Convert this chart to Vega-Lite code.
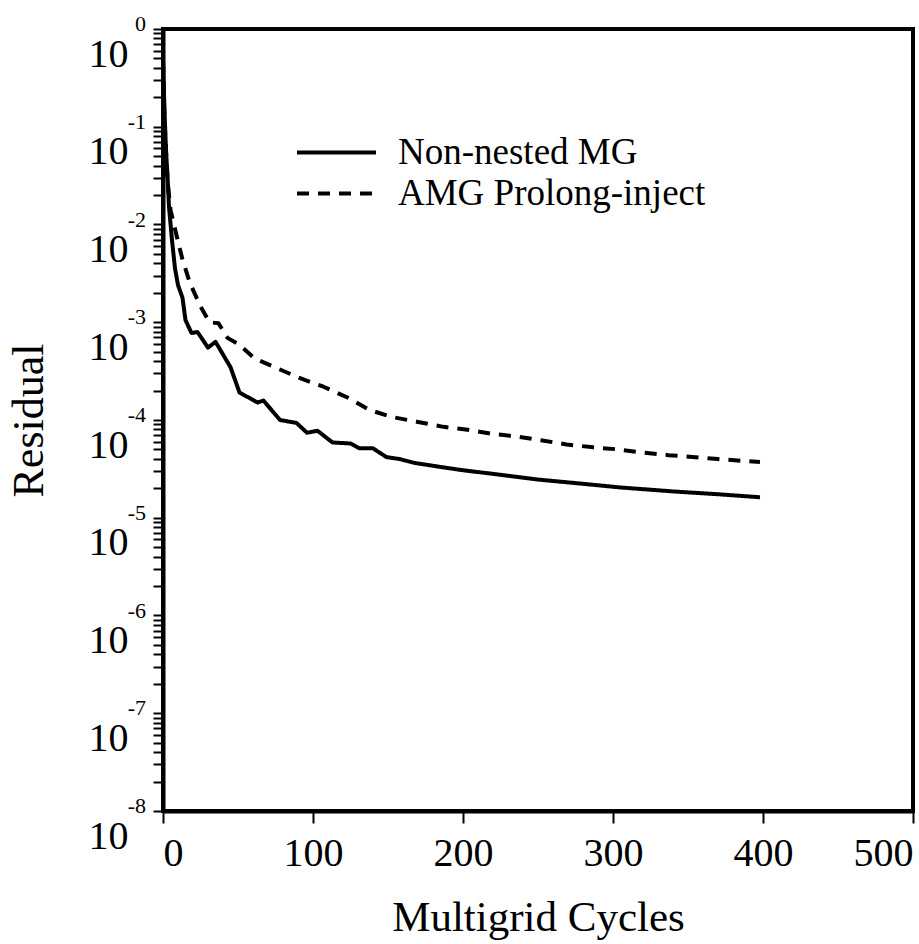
{
  "$schema": "https://vega.github.io/schema/vega-lite/v6.json",
  "width": 750,
  "height": 782,
  "autosize": {"type": "none"},
  "padding": {"left": 163, "top": 29, "right": 6, "bottom": 133},
  "background": "white",
  "config": {
    "view": {"stroke": "black", "strokeWidth": 4},
    "font": "Liberation Serif"
  },
  "datasets": {
    "curves": [
      {"method": "Non-nested MG", "cycle": 0, "residual": 0.479},
      {"method": "Non-nested MG", "cycle": 1, "residual": 0.148},
      {"method": "Non-nested MG", "cycle": 2, "residual": 0.0575},
      {"method": "Non-nested MG", "cycle": 3, "residual": 0.0316},
      {"method": "Non-nested MG", "cycle": 4, "residual": 0.0151},
      {"method": "Non-nested MG", "cycle": 6, "residual": 0.00692},
      {"method": "Non-nested MG", "cycle": 8, "residual": 0.00355},
      {"method": "Non-nested MG", "cycle": 10, "residual": 0.0024},
      {"method": "Non-nested MG", "cycle": 13, "residual": 0.00178},
      {"method": "Non-nested MG", "cycle": 15, "residual": 0.00105},
      {"method": "Non-nested MG", "cycle": 19, "residual": 0.000776},
      {"method": "Non-nested MG", "cycle": 23, "residual": 0.000794},
      {"method": "Non-nested MG", "cycle": 30, "residual": 0.00055},
      {"method": "Non-nested MG", "cycle": 35, "residual": 0.000631},
      {"method": "Non-nested MG", "cycle": 45, "residual": 0.000347},
      {"method": "Non-nested MG", "cycle": 51, "residual": 0.000191},
      {"method": "Non-nested MG", "cycle": 63, "residual": 0.000151},
      {"method": "Non-nested MG", "cycle": 67, "residual": 0.000158},
      {"method": "Non-nested MG", "cycle": 78, "residual": 0.0001},
      {"method": "Non-nested MG", "cycle": 89, "residual": 0.0000933},
      {"method": "Non-nested MG", "cycle": 96, "residual": 0.0000741},
      {"method": "Non-nested MG", "cycle": 103, "residual": 0.0000776},
      {"method": "Non-nested MG", "cycle": 113, "residual": 0.0000589},
      {"method": "Non-nested MG", "cycle": 125, "residual": 0.0000575},
      {"method": "Non-nested MG", "cycle": 131, "residual": 0.0000513},
      {"method": "Non-nested MG", "cycle": 140, "residual": 0.0000513},
      {"method": "Non-nested MG", "cycle": 149, "residual": 0.0000417},
      {"method": "Non-nested MG", "cycle": 158, "residual": 0.0000398},
      {"method": "Non-nested MG", "cycle": 168, "residual": 0.0000363},
      {"method": "Non-nested MG", "cycle": 185, "residual": 0.0000331},
      {"method": "Non-nested MG", "cycle": 198, "residual": 0.0000309},
      {"method": "Non-nested MG", "cycle": 225, "residual": 0.0000275},
      {"method": "Non-nested MG", "cycle": 251, "residual": 0.0000245},
      {"method": "Non-nested MG", "cycle": 278, "residual": 0.0000224},
      {"method": "Non-nested MG", "cycle": 305, "residual": 0.0000204},
      {"method": "Non-nested MG", "cycle": 340, "residual": 0.0000186},
      {"method": "Non-nested MG", "cycle": 370, "residual": 0.0000174},
      {"method": "Non-nested MG", "cycle": 398, "residual": 0.0000162},
      {"method": "AMG Prolong-inject", "cycle": 0, "residual": 0.479},
      {"method": "AMG Prolong-inject", "cycle": 1, "residual": 0.117},
      {"method": "AMG Prolong-inject", "cycle": 3, "residual": 0.0282},
      {"method": "AMG Prolong-inject", "cycle": 5, "residual": 0.0141},
      {"method": "AMG Prolong-inject", "cycle": 9, "residual": 0.00776},
      {"method": "AMG Prolong-inject", "cycle": 13, "residual": 0.00437},
      {"method": "AMG Prolong-inject", "cycle": 18, "residual": 0.00251},
      {"method": "AMG Prolong-inject", "cycle": 25, "residual": 0.00145},
      {"method": "AMG Prolong-inject", "cycle": 31, "residual": 0.001},
      {"method": "AMG Prolong-inject", "cycle": 37, "residual": 0.000977},
      {"method": "AMG Prolong-inject", "cycle": 43, "residual": 0.000692},
      {"method": "AMG Prolong-inject", "cycle": 51, "residual": 0.000589},
      {"method": "AMG Prolong-inject", "cycle": 61, "residual": 0.000427},
      {"method": "AMG Prolong-inject", "cycle": 76, "residual": 0.000339},
      {"method": "AMG Prolong-inject", "cycle": 91, "residual": 0.000269},
      {"method": "AMG Prolong-inject", "cycle": 107, "residual": 0.000219},
      {"method": "AMG Prolong-inject", "cycle": 123, "residual": 0.00017},
      {"method": "AMG Prolong-inject", "cycle": 138, "residual": 0.000126},
      {"method": "AMG Prolong-inject", "cycle": 153, "residual": 0.000107},
      {"method": "AMG Prolong-inject", "cycle": 170, "residual": 0.0000955},
      {"method": "AMG Prolong-inject", "cycle": 187, "residual": 0.0000851},
      {"method": "AMG Prolong-inject", "cycle": 203, "residual": 0.0000794},
      {"method": "AMG Prolong-inject", "cycle": 219, "residual": 0.0000724},
      {"method": "AMG Prolong-inject", "cycle": 236, "residual": 0.0000676},
      {"method": "AMG Prolong-inject", "cycle": 253, "residual": 0.0000617},
      {"method": "AMG Prolong-inject", "cycle": 269, "residual": 0.0000562},
      {"method": "AMG Prolong-inject", "cycle": 287, "residual": 0.0000525},
      {"method": "AMG Prolong-inject", "cycle": 303, "residual": 0.0000501},
      {"method": "AMG Prolong-inject", "cycle": 318, "residual": 0.0000468},
      {"method": "AMG Prolong-inject", "cycle": 337, "residual": 0.0000437},
      {"method": "AMG Prolong-inject", "cycle": 355, "residual": 0.0000417},
      {"method": "AMG Prolong-inject", "cycle": 370, "residual": 0.0000398},
      {"method": "AMG Prolong-inject", "cycle": 388, "residual": 0.000038},
      {"method": "AMG Prolong-inject", "cycle": 398, "residual": 0.0000372}
    ],
    "exps": [
      {"residual": 1, "exponent": "0"},
      {"residual": 0.1, "exponent": "-1"},
      {"residual": 0.01, "exponent": "-2"},
      {"residual": 0.001, "exponent": "-3"},
      {"residual": 0.0001, "exponent": "-4"},
      {"residual": 0.00001, "exponent": "-5"},
      {"residual": 0.000001, "exponent": "-6"},
      {"residual": 0.0000001, "exponent": "-7"},
      {"residual": 0.00000001, "exponent": "-8"}
    ]
  },
  "layer": [
    {
      "data": {"name": "curves"},
      "mark": {"type": "line", "strokeWidth": 4, "color": "black", "strokeCap": "butt", "strokeJoin": "round"},
      "encoding": {
        "x": {
          "field": "cycle", "type": "quantitative",
          "scale": {"domain": [0, 500], "nice": false, "zero": false},
          "axis": {
            "title": "Multigrid Cycles",
            "values": [0, 100, 200, 300, 400, 500],
            "grid": false,
            "domainColor": "black", "domainWidth": 4,
            "tickColor": "black", "tickWidth": 2, "tickSize": 12,
            "labelFont": "Liberation Serif", "labelFontSize": 40, "labelColor": "black",
            "labelPadding": 10, "labelFlush": true, "labelOverlap": false,
            "titleFont": "Liberation Serif", "titleFontSize": 43, "titleFontWeight": "normal", "titleColor": "black",
            "titleX": 375, "titleY": 119, "titleBaseline": "alphabetic", "titleAlign": "center"
          }
        },
        "y": {
          "field": "residual", "type": "quantitative",
          "scale": {"type": "log", "domain": [0.00000001, 1], "nice": false},
          "axis": {
            "title": "Residual",
            "values": [0.00000001, 0.00000002, 0.00000003, 0.00000004, 0.00000005, 0.00000006, 0.00000007, 0.00000008, 0.00000009,
                       0.0000001, 0.0000002, 0.0000003, 0.0000004, 0.0000005, 0.0000006, 0.0000007, 0.0000008, 0.0000009,
                       0.000001, 0.000002, 0.000003, 0.000004, 0.000005, 0.000006, 0.000007, 0.000008, 0.000009,
                       0.00001, 0.00002, 0.00003, 0.00004, 0.00005, 0.00006, 0.00007, 0.00008, 0.00009,
                       0.0001, 0.0002, 0.0003, 0.0004, 0.0005, 0.0006, 0.0007, 0.0008, 0.0009,
                       0.001, 0.002, 0.003, 0.004, 0.005, 0.006, 0.007, 0.008, 0.009,
                       0.01, 0.02, 0.03, 0.04, 0.05, 0.06, 0.07, 0.08, 0.09,
                       0.1, 0.2, 0.3, 0.4, 0.5, 0.6, 0.7, 0.8, 0.9, 1],
            "labelExpr": "abs(log(datum.value)/LN10 - round(log(datum.value)/LN10)) < 0.001 ? '10' : ''",
            "grid": false,
            "domainColor": "black", "domainWidth": 4,
            "tickColor": "black", "tickWidth": 2, "tickSize": 10,
            "labelFont": "Liberation Serif", "labelFontSize": 40, "labelColor": "black",
            "labelPadding": 25, "labelBaseline": "top", "labelOffset": 5,
            "labelFlush": false, "labelOverlap": false,
            "titleFont": "Liberation Serif", "titleFontSize": 44, "titleFontWeight": "normal", "titleColor": "black",
            "titleX": -121, "titleY": 391, "titleBaseline": "alphabetic", "titleAlign": "center", "titleAngle": -90
          }
        },
        "strokeDash": {
          "field": "method", "type": "nominal",
          "scale": {"domain": ["Non-nested MG", "AMG Prolong-inject"], "range": [[1, 0], [12, 9]]},
          "legend": {
            "title": null,
            "orient": "none", "legendX": 155, "legendY": 105,
            "symbolType": "M-3,0H3", "symbolSize": 693, "symbolStrokeWidth": 4,
            "symbolStrokeColor": "black", "symbolFillColor": "transparent",
            "labelFont": "Liberation Serif", "labelFontSize": 37, "labelColor": "black",
            "labelLimit": 0,
            "labelOffset": 43, "rowPadding": 3, "padding": 0
          }
        }
      }
    },
    {
      "data": {"name": "exps"},
      "mark": {"type": "text", "align": "right", "baseline": "alphabetic", "dx": -17, "dy": 2, "fontSize": 22, "font": "Liberation Serif", "color": "black"},
      "encoding": {
        "x": {"datum": 0, "type": "quantitative"},
        "y": {"field": "residual", "type": "quantitative"},
        "text": {"field": "exponent", "type": "nominal"}
      }
    }
  ]
}
